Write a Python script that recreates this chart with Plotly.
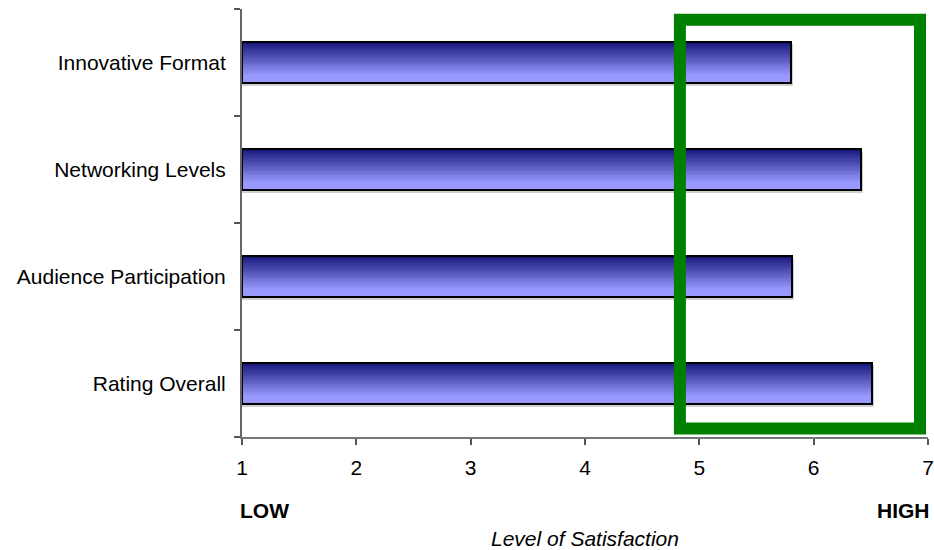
import plotly.graph_objects as go

# ---- data ----
categories = ["Rating Overall", "Audience Participation", "Networking Levels", "Innovative Format"]
scores = [6.51, 5.81, 6.41, 5.80]
x_ticks = [1, 2, 3, 4, 5, 6, 7]
axis_min, axis_max = 1, 7
highlight_x = [4.83, 6.93]   # green "high satisfaction" box, in score units

# ---- style ----
FONT = "Liberation Sans, Arial, sans-serif"
bar_w = 0.39
n_slices = 28
top_rgb = (0x16, 0x16, 0x7A)
bot_rgb = (0x99, 0x99, 0xFF)
light_from = 0.18   # bottom fraction of the bar that stays at the light colour

fig = go.Figure()
lengths = [v - axis_min for v in scores]

# soft shadow
fig.add_trace(go.Bar(
    y=categories, x=[l + 0.02 for l in lengths], base=axis_min, orientation="h",
    width=bar_w, offset=-bar_w / 2 - 0.02,
    marker=dict(color="#cfcfcf", line=dict(width=0)), hoverinfo="skip", showlegend=False))

# gradient slices (dark top -> light bottom)
sw = bar_w / n_slices
for i in range(n_slices):
    pos = (i + 0.5) / n_slices            # 0 = bottom, 1 = top
    t = max(0.0, (pos - light_from) / (1 - light_from))
    f = 1 - t
    r = round(top_rgb[0] + (bot_rgb[0] - top_rgb[0]) * f)
    g = round(top_rgb[1] + (bot_rgb[1] - top_rgb[1]) * f)
    b = round(top_rgb[2] + (bot_rgb[2] - top_rgb[2]) * f)
    off = -bar_w / 2 + i * sw
    w = sw * 1.6 if i < n_slices - 1 else sw
    fig.add_trace(go.Bar(
        y=categories, x=lengths, base=axis_min, orientation="h",
        width=w, offset=off,
        marker=dict(color=f"rgb({r},{g},{b})", line=dict(width=0)),
        hoverinfo="skip", showlegend=False))

# outline
fig.add_trace(go.Bar(
    y=categories, x=lengths, base=axis_min, orientation="h",
    width=bar_w, offset=-bar_w / 2,
    marker=dict(color="rgba(0,0,0,0)", line=dict(color="#000000", width=2)),
    customdata=scores, hovertemplate="%{y}: %{customdata}<extra></extra>", showlegend=False))

fig.add_shape(type="rect", xref="x", yref="y",
              x0=highlight_x[0], x1=highlight_x[1], y0=-0.42, y1=3.40,
              line=dict(color="#008000", width=12), fillcolor="rgba(0,0,0,0)", layer="above")

fig.add_annotation(text="<b>LOW</b>", xref="paper", yref="paper", x=-0.006, y=-0.172,
                   xanchor="left", yanchor="middle", showarrow=False,
                   font=dict(family=FONT, size=21, color="#000"))
fig.add_annotation(text="<b>HIGH</b>", xref="paper", yref="paper", x=1.006, y=-0.172,
                   xanchor="right", yanchor="middle", showarrow=False,
                   font=dict(family=FONT, size=21, color="#000"))
fig.add_annotation(text="<i>Level of Satisfaction</i>", xref="paper", yref="paper", x=0.5, y=-0.238,
                   xanchor="center", yanchor="middle", showarrow=False,
                   font=dict(family=FONT, size=21, color="#000"))

fig.update_layout(
    width=934, height=550,
    margin=dict(l=242, r=6, t=9, b=113, autoexpand=False),
    paper_bgcolor="white", plot_bgcolor="white",
    barmode="overlay", bargap=0,
    font=dict(family=FONT, size=21, color="#000"),
    showlegend=False,
    xaxis=dict(range=[axis_min, axis_max], tickvals=x_ticks, ticktext=[str(v) for v in x_ticks],
               showgrid=False, zeroline=False, showline=True, linecolor="#777", linewidth=2,
               ticks="outside", ticklen=6, tickwidth=1.5, tickcolor="#555", automargin=False,
               tickfont=dict(family=FONT, size=21), ticklabelstandoff=5),
    yaxis=dict(type="category", categoryorder="array", categoryarray=categories,
               range=[-0.5, 3.5], showgrid=False, zeroline=False, showline=True,
               linecolor="#666", linewidth=2, ticks="outside", tickson="boundaries",
               ticklen=6, tickwidth=1.5, tickcolor="#555", automargin=False,
               tickfont=dict(family=FONT, size=21), ticklabelstandoff=10),
)

fig.write_html("out.html", config={"displayModeBar": False},
               post_script="document.body.style.margin='0';document.body.style.overflow='hidden';")
